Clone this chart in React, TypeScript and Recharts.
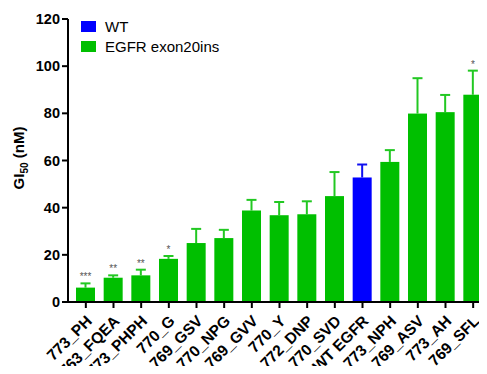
import React from 'react';
import { BarChart, Bar, XAxis, YAxis, Cell } from 'recharts';

const categories = ['773_PH', '763_FQEA', '773_PHPH', '770_G', '769_GSV', '770_NPG', '769_GVV', '770_Y', '772_DNP', '770_SVD', 'WT EGFR', '773_NPH', '769_ASV', '773_AH', '769_SFL'];
const means = [6.1, 10.3, 11.3, 18.3, 25.0, 27.1, 38.8, 36.8, 37.2, 44.9, 52.8, 59.4, 79.9, 80.5, 87.9];
const errUp = [1.8, 1.0, 2.4, 1.2, 6.0, 3.5, 4.5, 5.6, 5.5, 10.2, 5.5, 5.0, 15.0, 7.3, 10.2];
const stars = ['***', '**', '**', '*', '', '', '', '', '', '', '', '', '', '', '*'];
const groups = ['EGFR exon20ins', 'EGFR exon20ins', 'EGFR exon20ins', 'EGFR exon20ins', 'EGFR exon20ins', 'EGFR exon20ins', 'EGFR exon20ins', 'EGFR exon20ins', 'EGFR exon20ins', 'EGFR exon20ins', 'WT', 'EGFR exon20ins', 'EGFR exon20ins', 'EGFR exon20ins', 'EGFR exon20ins'];
const legendItems = ['WT', 'EGFR exon20ins'];
const yTicks = [0, 20, 40, 60, 80, 100, 120];

const colors: Record<string, string> = { WT: '#0000FF', 'EGFR exon20ins': '#00BF00' };
const errColors: Record<string, string> = { WT: '#1010F0', 'EGFR exon20ins': '#22C822' };

const data = categories.map((name, i) => ({ name, value: means[i], err: errUp[i], star: stars[i], group: groups[i] }));

const font = '"Liberation Sans", Arial, sans-serif';

const BarWithError = (props: any) => {
  const { x, y, width, height, payload } = props;
  const pxPerUnit = height / payload.value;
  const top = y - payload.err * pxPerUnit;
  const cx = x + width / 2;
  const ec = errColors[payload.group];
  return (
    <g>
      <line x1={cx} x2={cx} y1={y} y2={top} stroke={ec} strokeWidth={2} />
      <line x1={cx - 5} x2={cx + 5} y1={top} y2={top} stroke={ec} strokeWidth={2} />
      <rect x={x} y={y} width={width} height={height} fill={colors[payload.group]} />
      {payload.star && (
        <text x={cx} y={top - 3} textAnchor="middle" fontSize={10} fill="#555" fontFamily={font}>{payload.star}</text>
      )}
    </g>
  );
};

const XTick = (props: any) => {
  const { x, y, payload } = props;
  const ax = x + 7;
  const ay = y + 12;
  return (
    <text x={ax} y={ay} transform={`rotate(-45 ${ax} ${ay})`} textAnchor="end" fontSize={15.5} fontWeight="bold" fontFamily={font} fill="#000">
      {payload.value}
    </text>
  );
};

const YLabel = () => (
  <text transform="translate(24 158) rotate(-90)" textAnchor="middle" fontSize={15} fontWeight="bold" fontFamily={font} fill="#000">
    GI<tspan fontSize={10} dy={4}>50</tspan><tspan dy={-4}> (nM)</tspan>
  </text>
);

export default function App() {
  return (
    <div style={{ margin: -8, width: 487, height: 374, background: '#fff', position: 'relative' }}>
      <BarChart width={487} height={374} data={data} margin={{ top: 19, right: 0, bottom: 0, left: 8 }} barCategoryGap={0}>
        <XAxis
          dataKey="name"
          interval={0}
          height={72}
          padding={{ left: 4, right: 0 }}
          tick={<XTick />}
          tickSize={6}
          axisLine={{ stroke: '#000', strokeWidth: 2 }}
          tickLine={{ stroke: '#000', strokeWidth: 2 }}
        />
        <YAxis
          domain={[0, 120]}
          ticks={yTicks}
          width={60}
          tickSize={6}
          tick={{ fontSize: 14.5, fontWeight: 'bold', fill: '#000', fontFamily: font }}
          axisLine={{ stroke: '#000', strokeWidth: 2 }}
          tickLine={{ stroke: '#000', strokeWidth: 2 }}
          label={<YLabel />}
        />
        <Bar dataKey="value" barSize={19} isAnimationActive={false} shape={<BarWithError />}>
          {data.map((d, i) => (
            <Cell key={i} fill={colors[d.group]} />
          ))}
        </Bar>
      </BarChart>
      <div style={{ position: 'absolute', top: 16, left: 81, fontFamily: font, fontSize: 15, color: '#000' }}>
        {legendItems.map((g) => (
          <div key={g} style={{ display: 'flex', alignItems: 'center', height: 20 }}>
            <span style={{ display: 'inline-block', width: 15, height: 11, background: colors[g], marginRight: 9 }} />
            {g}
          </div>
        ))}
      </div>
    </div>
  );
}
